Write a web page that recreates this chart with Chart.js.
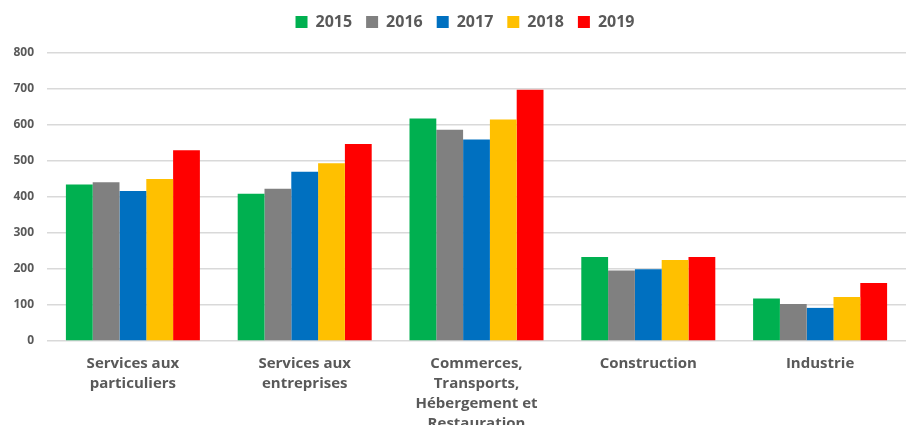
<!DOCTYPE html>
<html>
<head>
<meta charset="utf-8">
<script src="https://cdn.jsdelivr.net/npm/chart.js@4/dist/chart.umd.min.js"></script>
<style>
  html, body { margin: 0; padding: 0; background: #fff; overflow: hidden; }
  #wrap { width: 906px; height: 445px; position: relative; }
</style>
</head>
<body>
<div id="wrap"><canvas id="chart"></canvas></div>
<script>
// Données
const categories = [
    ['Services aux', 'particuliers'],
    ['Services aux', 'entreprises'],
    ['Commerces,', 'Transports,', 'Hébergement et', 'Restauration'],
    'Construction',
    'Industrie'
];
const years = ['2015', '2016', '2017', '2018', '2019'];
const values2015 = [435, 409, 618, 233, 118];
const values2016 = [441, 423, 587, 196, 103];
const values2017 = [417, 470, 560, 199, 92];
const values2018 = [450, 494, 615, 225, 122];
const values2019 = [530, 547, 698, 233, 161];
const yTicks = [0, 100, 200, 300, 400, 500, 600, 700, 800];

const colors = ['#00b050', '#808080', '#0070c0', '#ffc000', '#ff0000'];
const series = [values2015, values2016, values2017, values2018, values2019];
const textColor = '#595959';
const fontFamily = '"Open Sans", "Liberation Sans", sans-serif';

// espace sous la légende + léger décalage vers la droite
const legendSpacer = {
    id: 'legendSpacer',
    beforeInit(chart) {
        const fit = chart.legend.fit;
        chart.legend.fit = function () {
            fit.bind(chart.legend)();
            this.height += 13;
        };
    },
    afterLayout(chart) {
        chart.legend.left += 24;
    }
};

const ctx = document.getElementById('chart').getContext('2d');
new Chart(ctx, {
    type: 'bar',
    data: {
        labels: categories,
        datasets: series.map((data, i) => ({
            label: years[i],
            data: data,
            backgroundColor: colors[i],
            borderWidth: 0,
            categoryPercentage: 0.78,
            barPercentage: 1.0
        }))
    },
    options: {
        responsive: true,
        maintainAspectRatio: false,
        animation: false,
        layout: { padding: 0 },
        plugins: {
            legend: {
                position: 'top',
                labels: {
                    color: textColor,
                    font: { family: fontFamily, size: 16, weight: 'bold' },
                    boxWidth: 12,
                    boxHeight: 12,
                    padding: 14
                }
            },
            tooltip: { enabled: false }
        },
        scales: {
            x: {
                grid: { display: false },
                border: { display: false },
                ticks: {
                    color: textColor,
                    font: { family: fontFamily, size: 15, weight: 'bold', lineHeight: 1.33 },
                    padding: 5,
                    maxRotation: 0,
                    autoSkip: false
                },
                afterFit: (axis) => { axis.height = 104; }
            },
            y: {
                min: 0,
                max: 800,
                afterBuildTicks: (axis) => { axis.ticks = yTicks.map(v => ({ value: v })); },
                grid: { color: '#d9d9d9', lineWidth: 1.5, drawTicks: false },
                border: { display: false },
                ticks: {
                    color: textColor,
                    font: { family: fontFamily, size: 12, weight: 'bold' },
                    padding: 13
                },
                afterFit: (axis) => { axis.width = 47; }
            }
        }
    },
    plugins: [legendSpacer]
});
</script>
</body>
</html>
